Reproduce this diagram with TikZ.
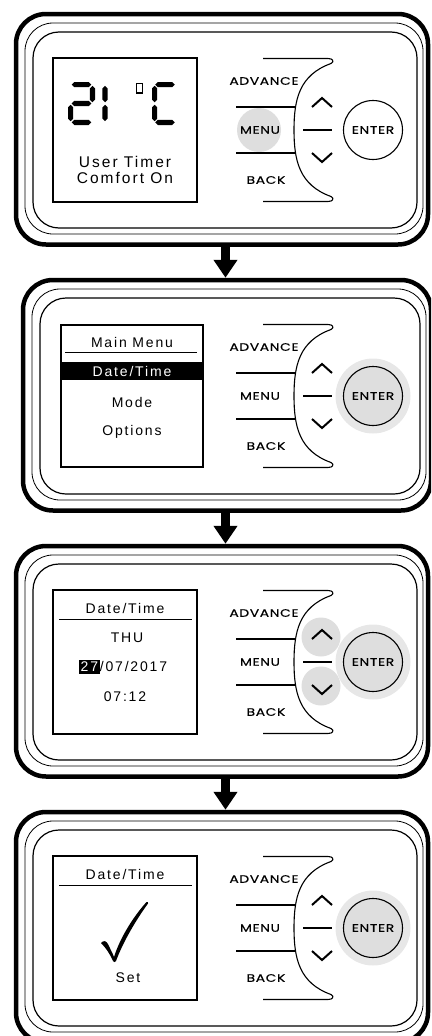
\documentclass[tikz,border=0pt]{standalone}
\usepackage{fontspec}
\setmainfont{Liberation Sans}
\newfontfamily\keyfont[FakeStretch=1.28,LetterSpace=6,FakeBold=0.4]{Poppins}
\newfontfamily\lcdfont[LetterSpace=13]{Liberation Sans}
\usepackage{tikz}
\usetikzlibrary{arrows.meta, positioning, calc}
\definecolor{hilite}{RGB}{222,222,222}
\definecolor{halo}{RGB}{231,231,231}
\tikzset{
  casebox/.style={rectangle, draw=black, line width=4.5pt,
    rounded corners=30pt, inner sep=0pt, minimum height=230.5pt},
  bezel/.style={draw=black, line width=0.8pt, rounded corners=28pt},
  innerbezel/.style={draw=black, line width=1.2pt, rounded corners=26pt},
  lcdbox/.style={rectangle, draw=black, line width=1.3pt, inner sep=0pt},
  keylabel/.style={font=\keyfont\fontsize{10.8}{10.8}\selectfont, inner sep=0pt},
  enterkey/.style={circle, draw=black, line width=1.1pt, minimum size=59pt,
    inner sep=0pt, font=\keyfont\fontsize{10.8}{10.8}\selectfont},
  keyline/.style={line width=1.1pt},
  chevron/.style={line width=2pt, line join=miter},
  lcdtext/.style={font=\lcdfont\fontsize{14}{14}\selectfont, inner sep=0pt},
  lcdbig/.style={font=\lcdfont\fontsize{15.5}{15.5}\selectfont, inner sep=0pt},
  lcdrule/.style={line width=0.9pt},
  flowarrow/.style={line width=9pt, -{Triangle[width=23pt,length=18pt]}}
}
% one bar of the seven segment digits: x, y, angle, half length
\newcommand{\lcdseg}[4]{%
  \fill[shift={(#1,#2)}, rotate=#3] (-#4,0) -- (-#4+2.6,2.6) -- (#4-2.6,2.6)
    -- (#4,0) -- (#4-2.6,-2.6) -- (-#4+2.6,-2.6) -- cycle;}
\setlength{\fboxsep}{1.8pt}

\begin{document}
\begin{tikzpicture}[x=1pt, y=-1pt]
  \useasboundingbox (0,0) rectangle (431,1036);
  \clip (0,0) rectangle (431,1036);

  % pressed keys (under the key lines)
  \fill[hilite] (259,130) circle (22);
  \fill[halo] (373,396) circle (37.5);
  \fill[halo] (373,662) circle (37.5);
  \fill[hilite] (321,637) circle (19.5);
  \fill[hilite] (321,686) circle (19.5);
  \fill[halo] (373,928) circle (37.5);

  % the four screens: case, bezels, display frame and keypad
  \foreach \i/\T/\L/\R/\lx/\ls/\ent in {1/14/16/428/125/144/white,
      2/280/23/431/132/142/hilite, 3/546/16/428/125/144/hilite,
      4/812/16/428/125/144/hilite} {
    \begin{scope}[shift={(0,\T)}]
      \node[casebox, minimum width=\R-\L] (case\i) at ({(\L+\R)/2},115.25) {};
      \draw[bezel] (\L+9,9) rectangle (\R-5,220);
      \draw[innerbezel] (\L+17,18) rectangle (\R-11,214);
      \node[lcdbox, minimum width=\ls, minimum height=\ls] (lcd\i) at (\lx,116) {};
      % keypad
      \draw[keyline] (263,44.5) -- (328,44.5)
        .. controls (333,44.5) and (334.5,47.5) .. (331,49.5)
        .. controls (299,61) and (294,86) .. (294,116)
        .. controls (294,146) and (299,171) .. (331,182.5)
        .. controls (334.5,184.5) and (333,187.5) .. (328,187.5) -- (263,187.5);
      \draw[keyline] (236,93) -- (296,93);
      \draw[keyline] (236,139) -- (296,139);
      \draw[keyline] (303,116) -- (332,116);
      \draw[chevron] (312,93) -- (322,84) -- (332,93);
      \draw[chevron] (312,139) -- (322,148) -- (332,139);
      \node[keylabel] (adv\i) at (264,67) {ADVANCE};
      \node[keylabel] (menu\i) at (260,116) {MENU};
      \node[keylabel] (back\i) at (266,166) {BACK};
      \node[enterkey, fill=\ent] (enter\i) at (373,116) {ENTER};
    \end{scope}
  }

  % screen 1: temperature
  \begin{scope}[shift={(0,14)}]
    \lcdseg{81.5}{70.6}{0}{9.8}
    \lcdseg{92.4}{80.05}{90}{8.2}
    \lcdseg{81.5}{89.5}{0}{9.8}
    \lcdseg{70.6}{98.95}{90}{8.2}
    \lcdseg{81.5}{108.4}{0}{9.8}
    \lcdseg{105}{80.05}{90}{8.2}
    \lcdseg{105}{98.95}{90}{8.2}
    \draw[line width=1.5pt] (136.5,69.5) rectangle (142.5,79);
    \lcdseg{165}{70.6}{0}{9.8}
    \lcdseg{154.6}{80.05}{90}{8.2}
    \lcdseg{154.6}{98.95}{90}{8.2}
    \lcdseg{165}{108.4}{0}{9.8}
    \node[lcdbig] (mode1) at (125,148) {User Timer};
    \node[lcdbig] (mode2) at (125,163.5) {Comfort On};
  \end{scope}

  % screen 2: main menu
  \begin{scope}[shift={(0,280)}]
    \node[lcdtext] (menuhead) at (132,62) {Main Menu};
    \draw[lcdrule] (65,72) -- (197,72);
    \node[lcdtext, fill=black, text=white, minimum width=142pt,
      minimum height=18pt] (itemdate) at (132,91) {Date/Time};
    \node[lcdtext] (itemmode) at (132,122) {Mode};
    \node[lcdtext] (itemopt) at (132,152) {Options};
  \end{scope}

  % screen 3: setting the date
  \begin{scope}[shift={(0,546)}]
    \node[lcdtext] (datehead) at (125,62) {Date/Time};
    \draw[lcdrule] (59,73) -- (192,73);
    \node[lcdtext] (day) at (127,92) {THU};
    \node[lcdtext] (date) at (123,121)
      {\colorbox{black}{\textcolor{white}{27}}/07/2017};
    \node[lcdtext] (clock) at (125,151) {07:12};
  \end{scope}

  % screen 4: confirmed
  \begin{scope}[shift={(0,812)}]
    \node[lcdtext] (sethead) at (125,62) {Date/Time};
    \draw[lcdrule] (59,73) -- (192,73);
    \fill (101,131) .. controls (103.5,128) and (106.5,128.5) .. (108.5,133)
      .. controls (110.5,137.5) and (112.5,141) .. (114,145)
      .. controls (120,126) and (133,105) .. (146.5,90)
      .. controls (147.5,89.5) and (148.5,90.5) .. (148,91.5)
      .. controls (136,108) and (123,130) .. (116,149)
      .. controls (115.3,150.5) and (113.7,150.5) .. (113,149)
      .. controls (110,142) and (106,136) .. (101,131) -- cycle;
    \node[lcdtext] (done) at (128,166) {Set};
  \end{scope}

  % flow between the screens
  \coordinate (flowx) at (225.5,0);
  \draw[flowarrow] (case1.south -| flowx) -- (case2.north -| flowx);
  \draw[flowarrow] (case2.south -| flowx) -- (case3.north -| flowx);
  \draw[flowarrow] (case3.south -| flowx) -- (case4.north -| flowx);
\end{tikzpicture}
\end{document}
